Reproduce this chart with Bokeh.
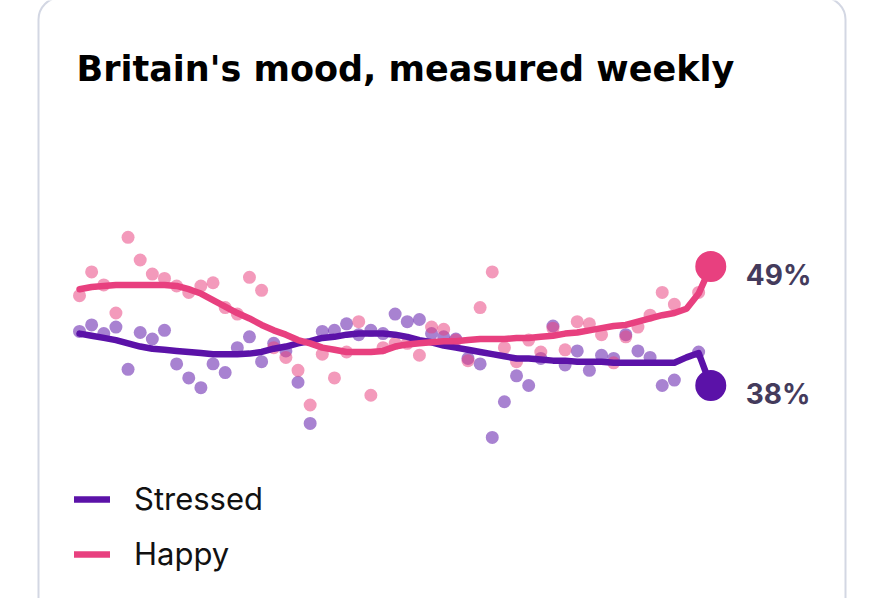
from bokeh.plotting import figure
from bokeh.models import Range1d, BoxAnnotation, Label, Legend, LegendItem, ColumnDataSource
from bokeh.core.properties import value
from bokeh.embed import file_html
from bokeh.resources import INLINE

nan = float("nan")

TITLE = "Britain's mood, measured weekly"
SERIES = ["Stressed", "Happy"]

# weekly values (%); index = week number
happy_points = [46.3, 48.5, 47.3, 44.7, 51.7, 49.6, 48.3, 47.9, 47.2, 46.6,
                47.2, 47.5, 45.2, 44.6, 48.0, 46.8, 41.5, 40.6, 39.4, 36.2,
                40.9, 38.7, 41.1, 43.9, 37.1, 41.5, 41.9, 41.9, 40.8, 43.4,
                43.2, 42.2, 40.3, 45.2, 48.5, 41.5, 40.2, 42.2, 41.1, 43.3,
                41.3, 43.9, 43.7, 42.7, 40.1, 42.5, 43.4, 44.5, 46.6, 45.5,
                nan, 46.6, 49.0]
stressed_points = [43.0, 43.6, 42.8, 43.4, 39.5, 42.9, 42.3, 43.1, 40.0, 38.7,
                   37.8, 40.0, 39.2, 41.5, 42.5, 40.2, 41.9, 41.2, 38.3, 34.5,
                   43.0, 43.1, 43.7, 42.7, 43.1, 42.8, 44.6, 43.9, 44.1, 42.8,
                   42.5, 42.3, 40.5, 40.0, 33.2, 36.5, 38.9, 38.0, 40.5, 43.5,
                   39.9, 41.2, 39.4, 40.8, 40.5, 42.7, 41.2, 40.6, 38.0, 38.5,
                   nan, 41.1, 38.0]
happy_trend = [46.9, 47.1, 47.2, 47.3, 47.3, 47.3, 47.3, 47.3, 47.2, 46.9,
               46.5, 45.9, 45.3, 44.7, 44.2, 43.6, 43.1, 42.7, 42.2, 41.9,
               41.5, 41.3, 41.1, 41.1, 41.1, 41.2, 41.6, 41.8, 41.9, 42.0,
               42.1, 42.1, 42.2, 42.3, 42.3, 42.3, 42.4, 42.4, 42.5, 42.6,
               42.8, 42.9, 43.1, 43.3, 43.5, 43.6, 43.9, 44.2, 44.5, 44.7,
               45.1, 46.5, 49.0]
stressed_trend = [42.8, 42.6, 42.4, 42.2, 41.9, 41.6, 41.4, 41.3, 41.2, 41.1,
                  41.0, 40.9, 40.9, 40.9, 40.95, 41.1, 41.4, 41.6, 41.9, 42.1,
                  42.4, 42.5, 42.7, 42.8, 42.8, 42.8, 42.7, 42.5, 42.2, 42.0,
                  41.7, 41.5, 41.3, 41.1, 40.9, 40.7, 40.5, 40.5, 40.4, 40.3,
                  40.3, 40.2, 40.2, 40.2, 40.1, 40.1, 40.1, 40.1, 40.1, 40.1,
                  40.6, 41.0, 38.0]
weeks = list(range(len(happy_points)))

PINK = "#e8407f"
PURPLE = "#5b12a8"
LABEL_COLOR = "#443b5c"
FONT = "Inter"

W, H = 880, 598
# pixel mapping of the data on the canvas
X0, DX = 79.0, 12.14      # canvas x of week 0, px per week
Y49, DY = 266.0, 10.82    # canvas y of 49 %, px per percentage point

def PX(px):
    return (px - X0) / DX

def PY(py):
    return 49 - (py - Y49) / DY

p = figure(width=W, height=H, output_backend="svg", toolbar_location=None,
           x_range=Range1d(PX(0), PX(W)), y_range=Range1d(PY(H), PY(0)),
           min_border=0, min_border_left=0, min_border_right=0,
           min_border_top=0, min_border_bottom=0)
p.axis.visible = False
p.grid.visible = False
p.outline_line_color = None
p.background_fill_color = "white"
p.border_fill_color = "white"

card = BoxAnnotation(left=PX(38), right=PX(845), top=PY(-3), bottom=PY(660),
                     fill_alpha=0, line_color="#d3d7e3", line_alpha=1.0, line_width=2,
                     border_radius=22, level="underlay")
p.add_layout(card)

src = ColumnDataSource(dict(x=weeks, happy=happy_points, stressed=stressed_points,
                            happy_t=happy_trend, stressed_t=stressed_trend))

p.scatter("x", "stressed", source=src, size=13, color=PURPLE, alpha=0.53, line_color=None)
p.scatter("x", "happy", source=src, size=13, color=PINK, alpha=0.53, line_color=None)

l_st = p.line("x", "stressed_t", source=src, line_width=6.5, color=PURPLE,
              line_cap="round", line_join="round")
l_ha = p.line("x", "happy_t", source=src, line_width=6.5, color=PINK,
              line_cap="round", line_join="round")

last = weeks[-1]
p.scatter([last], [stressed_points[-1]], size=31, color=PURPLE, line_color=None)
p.scatter([last], [happy_points[-1]], size=31, color=PINK, line_color=None)

p.text([last, last], [happy_points[-1], stressed_points[-1]],
       text=[f"{happy_points[-1]:.0f}%", f"{stressed_points[-1]:.0f}%"],
       x_offset=35, y_offset=8, text_baseline="middle", text_align="left",
       text_font=value(FONT), text_font_style="bold", text_font_size="28px",
       text_color=LABEL_COLOR)

p.add_layout(Label(x=PX(76), y=PY(68), text=TITLE, text_font="DejaVu Sans",
                   text_font_style="bold", text_font_size="35px",
                   text_color="#000000", text_baseline="alphabetic"))

legend = Legend(items=[LegendItem(label=SERIES[0], renderers=[l_st]),
                       LegendItem(label=SERIES[1], renderers=[l_ha])],
                location=(74, 26), orientation="vertical",
                glyph_width=36, glyph_height=36, label_height=36,
                label_standoff=24, spacing=18, padding=0, margin=0,
                border_line_color=None, background_fill_alpha=0,
                label_text_font=FONT, label_text_font_size="31px",
                label_text_color="#111111")
p.add_layout(legend)

open("out.html", "w").write(file_html(p, INLINE))
